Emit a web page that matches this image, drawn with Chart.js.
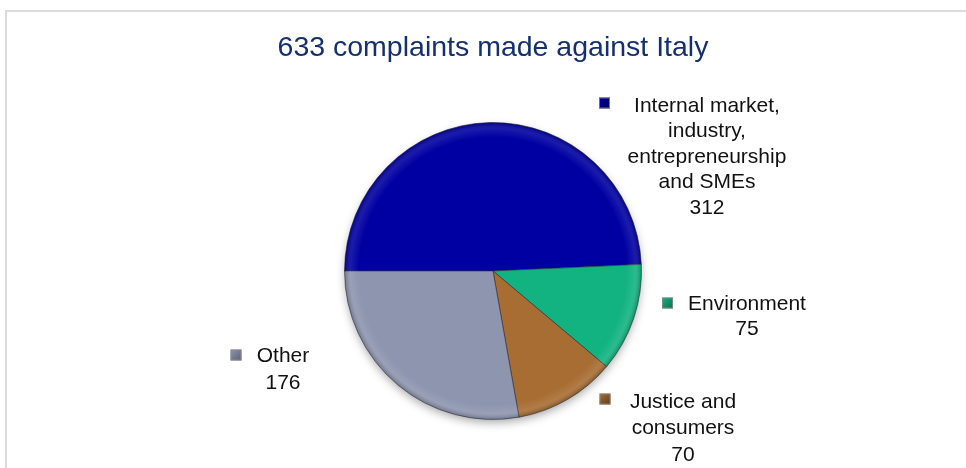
<!DOCTYPE html>
<html><head><meta charset="utf-8">
<script src="https://cdn.jsdelivr.net/npm/chart.js@4.4.1/dist/chart.umd.min.js"></script>
<style>
html,body{margin:0;padding:0;background:#fff;}
#wrap{position:relative;width:966px;height:468px;overflow:hidden;}
#frame{position:absolute;left:5px;top:10px;width:1000px;height:500px;border:2px solid #DCDCDC;}
canvas{position:absolute;left:0;top:0;}
</style></head>
<body><div id="wrap"><div id="frame"></div><canvas id="c" width="966" height="468"></canvas></div>
<script>
// ---- data ----
const chartTitle = '633 complaints made against Italy';
const categories = ['Internal market, industry, entrepreneurship and SMEs', 'Environment', 'Justice and consumers', 'Other'];
const values = [312, 75, 70, 176];

// ---- styles / layout ----
const palette = ['#0000A2', '#13B381', '#A86D33', '#8D95AF'];
const edgeColors = ['#00005A', '#0B6E4E', '#5E3C1A', '#5A6178'];
const FONT = "'Liberation Sans', Arial, sans-serif";
// label placement relative to pie centre: key (kx,ky), text centre x (tx), first line y (ty), line height, wrap width
const labelLayout = [
  {kx: 111.5, ky: -168, tx: 214, ty: -165, lh: 25.5, wrap: 180},
  {kx: 174.5, ky: 32,   tx: 254, ty: 33,   lh: 25,   wrap: 180},
  {kx: 112,   ky: 128,  tx: 190, ty: 131,  lh: 26.5, wrap: 130},
  {kx: -257,  ky: 84,   tx: -210, ty: 85,  lh: 27,   wrap: 180}
];

function wrapText(ctx, text, maxW) {
  const words = text.split(' ');
  const lines = [];
  let cur = '';
  for (const w of words) {
    const t = cur ? cur + ' ' + w : w;
    if (ctx.measureText(t).width > maxW && cur) { lines.push(cur); cur = w; }
    else cur = t;
  }
  if (cur) lines.push(cur);
  return lines;
}

const shadowPlugin = {
  id: 'pieShadow',
  beforeDatasetsDraw(chart) {
    const arc = chart.getDatasetMeta(0).data[0];
    if (!arc) return;
    const ctx = chart.ctx;
    ctx.save();
    ctx.shadowColor = 'rgba(0,0,0,0.35)';
    ctx.shadowBlur = 10;
    ctx.shadowOffsetY = 4;
    ctx.beginPath();
    ctx.arc(arc.x, arc.y, arc.outerRadius - 1, 0, Math.PI * 2);
    ctx.fillStyle = '#888';
    ctx.fill();
    ctx.restore();
  },
  afterDatasetsDraw(chart) {
    const arc = chart.getDatasetMeta(0).data[0];
    if (!arc) return;
    const ctx = chart.ctx;
    ctx.save();
    const g = ctx.createRadialGradient(arc.x, arc.y, arc.outerRadius * 0.9, arc.x, arc.y, arc.outerRadius);
    g.addColorStop(0, 'rgba(255,255,255,0)');
    g.addColorStop(0.6, 'rgba(255,255,255,0.10)');
    g.addColorStop(1, 'rgba(0,0,0,0.22)');
    ctx.beginPath();
    ctx.arc(arc.x, arc.y, arc.outerRadius, 0, Math.PI * 2);
    ctx.fillStyle = g;
    ctx.fill();
    ctx.restore();
  }
};

const labelPlugin = {
  id: 'sliceLabels',
  afterDraw(chart) {
    const meta = chart.getDatasetMeta(0);
    const ctx = chart.ctx;
    const cx = meta.data[0].x, cy = meta.data[0].y;
    ctx.save();
    // title, centred over the pie
    ctx.font = '28.5px ' + FONT;
    ctx.fillStyle = '#14306E';
    ctx.textAlign = 'center';
    ctx.textBaseline = 'middle';
    ctx.fillText(chartTitle, cx, 48);
    // slice labels
    ctx.font = '21px ' + FONT;
    categories.forEach((cat, i) => {
      const L = labelLayout[i];
      const kx = cx + L.kx, ky = cy + L.ky, s = 11;
      const kg = ctx.createLinearGradient(kx - s / 2, ky - s / 2, kx + s / 2, ky + s / 2);
      kg.addColorStop(0, palette[i]);
      kg.addColorStop(1, edgeColors[i]);
      ctx.fillStyle = kg;
      ctx.fillRect(kx - s / 2, ky - s / 2, s, s);
      ctx.strokeStyle = 'rgba(140,140,140,0.8)';
      ctx.lineWidth = 1;
      ctx.strokeRect(kx - s / 2 + 0.5, ky - s / 2 + 0.5, s - 1, s - 1);
      ctx.fillStyle = '#111';
      const lines = wrapText(ctx, cat, L.wrap);
      lines.push(String(values[i]));
      lines.forEach((ln, j) => ctx.fillText(ln, cx + L.tx, cy + L.ty + j * L.lh));
    });
    ctx.restore();
  }
};

new Chart(document.getElementById('c'), {
  type: 'pie',
  data: {
    labels: categories,
    datasets: [{
      data: values,
      backgroundColor: palette,
      borderColor: 'rgba(40,40,60,0.55)',
      borderWidth: 1
    }]
  },
  options: {
    responsive: false,
    animation: false,
    rotation: -90,
    layout: {padding: {top: 122, left: 344, right: 324, bottom: 48}},
    plugins: {
      legend: {display: false},
      tooltip: {enabled: false},
      title: {display: false}
    }
  },
  plugins: [shadowPlugin, labelPlugin]
});
</script>
</body></html>
